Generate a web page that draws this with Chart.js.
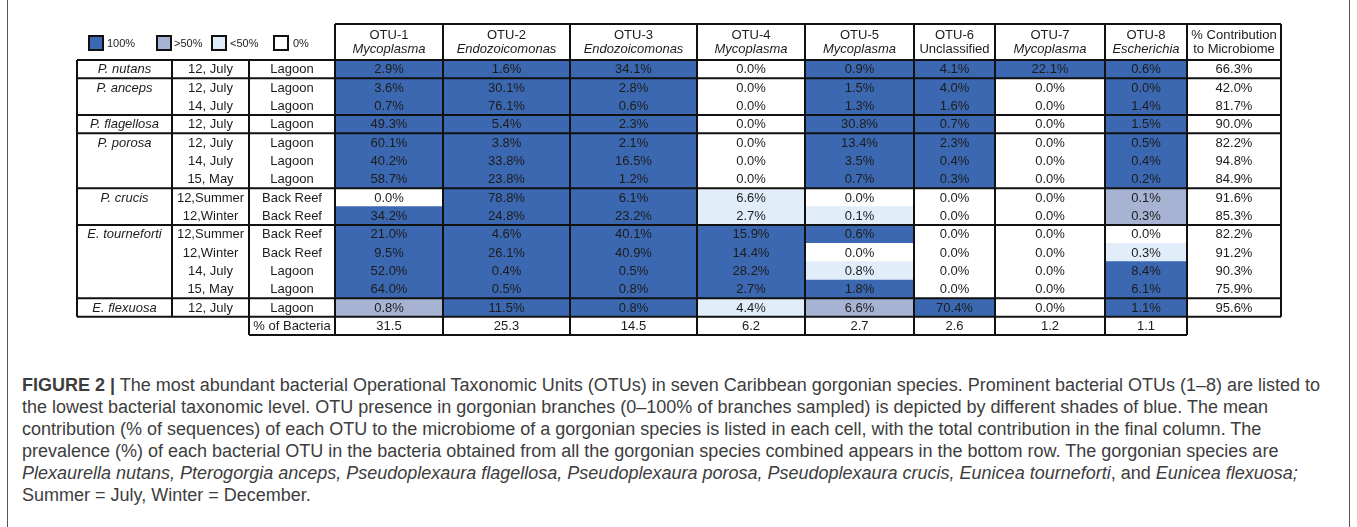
<!DOCTYPE html>
<html>
<head>
<meta charset="utf-8">
<script src="https://cdn.jsdelivr.net/npm/chart.js@4.4.1/dist/chart.umd.min.js"></script>
<style>
  html, body { margin: 0; padding: 0; background: #fff; }
  #page { position: relative; width: 1357px; height: 527px; overflow: hidden; }
  #frame { position: absolute; left: 7px; top: 0; width: 1343px; height: 527px;
           border-left: 1px solid #555; border-right: 1px solid #555; box-sizing: border-box; }
  #chartBox { position: absolute; left: 0; top: 0; width: 1357px; height: 345px; }
  #caption { position: absolute; left: 22px; top: 374px; font-family: "Liberation Sans", Arial, sans-serif;
             font-size: 16.5px; line-height: 22px; color: #3d3d3d; white-space: nowrap; }
  #caption span { display: inline-block; }
</style>
</head>
<body>
<div id="page">
  <div id="frame"></div>
  <div id="chartBox"><canvas id="otuChart"></canvas></div>
  <div id="caption">
    <span id="capLine1"><b>FIGURE 2 |</b> The most abundant bacterial Operational Taxonomic Units (OTUs) in seven Caribbean gorgonian species. Prominent bacterial OTUs (1–8) are listed to</span><br>
    <span>the lowest bacterial taxonomic level. OTU presence in gorgonian branches (0–100% of branches sampled) is depicted by different shades of blue. The mean</span><br>
    <span>contribution (% of sequences) of each OTU to the microbiome of a gorgonian species is listed in each cell, with the total contribution in the final column. The</span><br>
    <span>prevalence (%) of each bacterial OTU in the bacteria obtained from all the gorgonian species combined appears in the bottom row. The gorgonian species are</span><br>
    <span><i>Plexaurella nutans, Pterogorgia anceps, Pseudoplexaura flagellosa, Pseudoplexaura porosa, Pseudoplexaura crucis, Eunicea tourneforti</i>, and <i>Eunicea flexuosa;</i></span><br>
    <span>Summer = July, Winter = December.</span>
  </div>
</div>
<script>
// --- data ---
const otuNames = ['OTU-1', 'OTU-2', 'OTU-3', 'OTU-4', 'OTU-5', 'OTU-6', 'OTU-7', 'OTU-8'];
const otuGenera = ['Mycoplasma', 'Endozoicomonas', 'Endozoicomonas', 'Mycoplasma', 'Mycoplasma', 'Unclassified', 'Mycoplasma', 'Escherichia'];

const species = ['P. nutans', 'P. anceps', '', 'P. flagellosa', 'P. porosa', '', '', 'P. crucis', '',
                 'E. tourneforti', '', '', '', 'E. flexuosa'];
const dates = ['12, July', '12, July', '14, July', '12, July', '12, July', '14, July', '15, May',
               '12,Summer', '12,Winter', '12,Summer', '12,Winter', '14, July', '15, May', '12, July'];
const sites = ['Lagoon', 'Lagoon', 'Lagoon', 'Lagoon', 'Lagoon', 'Lagoon', 'Lagoon',
               'Back Reef', 'Back Reef', 'Back Reef', 'Back Reef', 'Lagoon', 'Lagoon', 'Lagoon'];

// mean contribution (% of sequences) per OTU, one value per sampled row
const otu1 = [2.9, 3.6, 0.7, 49.3, 60.1, 40.2, 58.7, 0.0, 34.2, 21.0, 9.5, 52.0, 64.0, 0.8];
const otu2 = [1.6, 30.1, 76.1, 5.4, 3.8, 33.8, 23.8, 78.8, 24.8, 4.6, 26.1, 0.4, 0.5, 11.5];
const otu3 = [34.1, 2.8, 0.6, 2.3, 2.1, 16.5, 1.2, 6.1, 23.2, 40.1, 40.9, 0.5, 0.8, 0.8];
const otu4 = [0.0, 0.0, 0.0, 0.0, 0.0, 0.0, 0.0, 6.6, 2.7, 15.9, 14.4, 28.2, 2.7, 4.4];
const otu5 = [0.9, 1.5, 1.3, 30.8, 13.4, 3.5, 0.7, 0.0, 0.1, 0.6, 0.0, 0.8, 1.8, 6.6];
const otu6 = [4.1, 4.0, 1.6, 0.7, 2.3, 0.4, 0.3, 0.0, 0.0, 0.0, 0.0, 0.0, 0.0, 70.4];
const otu7 = [22.1, 0.0, 0.0, 0.0, 0.0, 0.0, 0.0, 0.0, 0.0, 0.0, 0.0, 0.0, 0.0, 0.0];
const otu8 = [0.6, 0.0, 1.4, 1.5, 0.5, 0.4, 0.2, 0.1, 0.3, 0.0, 0.3, 8.4, 6.1, 1.1];

// presence in branches: 3 = 100%, 2 = >50%, 1 = <50%, 0 = 0%
const pres1 = [3, 3, 3, 3, 3, 3, 3, 0, 3, 3, 3, 3, 3, 2];
const pres2 = [3, 3, 3, 3, 3, 3, 3, 3, 3, 3, 3, 3, 3, 3];
const pres3 = [3, 3, 3, 3, 3, 3, 3, 3, 3, 3, 3, 3, 3, 3];
const pres4 = [0, 0, 0, 0, 0, 0, 0, 1, 1, 3, 3, 3, 3, 1];
const pres5 = [3, 3, 3, 3, 3, 3, 3, 0, 1, 3, 0, 1, 3, 2];
const pres6 = [3, 3, 3, 3, 3, 3, 3, 0, 0, 0, 0, 0, 0, 3];
const pres7 = [3, 0, 0, 0, 0, 0, 0, 0, 0, 0, 0, 0, 0, 0];
const pres8 = [3, 3, 3, 3, 3, 3, 3, 2, 2, 0, 1, 3, 3, 3];

const contribution = [66.3, 42.0, 81.7, 90.0, 82.2, 94.8, 84.9, 91.6, 85.3, 82.2, 91.2, 90.3, 75.9, 95.6];
const bacteriaPct = [31.5, 25.3, 14.5, 6.2, 2.7, 2.6, 1.2, 1.1];

const legendLabels = ['100%', '>50%', '<50%', '0%'];

// --- layout and style ---
const shades = ['#ffffff', '#e2edfa', '#a6b3d3', '#3b68b0'];   // index = presence level
const colWidths = [95, 77, 86, 108, 127, 127, 108, 109, 81, 110, 82, 94];
const edges = [0];
colWidths.forEach(w => edges.push(edges[edges.length - 1] + w));
const headerH = 36;
const legendX = [89, 157, 212, 274];
const legendTextX = [107, 174, 230, 293];
const font = '"Liberation Sans", Arial, sans-serif';
const cellFont = '13px ' + font;
const ink = '#1c1c1c';

const values = [otu1, otu2, otu3, otu4, otu5, otu6, otu7, otu8];
const presence = [pres1, pres2, pres3, pres4, pres5, pres6, pres7, pres8];
const rowLabels = dates.map((d, i) => (species[i] || '') + ' ' + d + ' ' + sites[i]).concat(['% of Bacteria']);

const datasets = values.map((vals, k) => ({
    label: otuNames[k],
    data: rowLabels.map((_, i) => i < vals.length ? [edges[3 + k], edges[4 + k]] : null),
    backgroundColor: rowLabels.map((_, i) => i < vals.length ? shades[presence[k][i]] : '#ffffff'),
    borderWidth: 0,
    grouped: false,
    barPercentage: 1,
    categoryPercentage: 1
}));

const tablePlugin = {
    id: 'tableDraw',
    afterDraw(chart) {
        const { ctx, chartArea, scales: { x, y } } = chart;
        const px = e => x.getPixelForValue(edges[e]);
        const nRows = rowLabels.length;
        const rowH = (chartArea.bottom - chartArea.top) / nRows;
        const rowTop = i => y.getPixelForValue(i) - rowH / 2;
        const midX = c => (px(c) + px(c + 1)) / 2;
        const dataRows = dates.length;
        const top = chartArea.top;
        const bot = chartArea.bottom;
        const hTop = top - headerH;

        ctx.save();
        ctx.textAlign = 'center';
        ctx.textBaseline = 'middle';
        ctx.fillStyle = ink;

        // cell texts
        for (let i = 0; i < dataRows; i++) {
            const cy = y.getPixelForValue(i) + 0.5;
            if (species[i]) {
                ctx.font = 'italic ' + cellFont;
                ctx.fillText(species[i], midX(0), cy);
            }
            ctx.font = cellFont;
            ctx.fillText(dates[i], midX(1), cy);
            ctx.fillText(sites[i], midX(2), cy);
            values.forEach((vals, k) => ctx.fillText(vals[i].toFixed(1) + '%', midX(3 + k), cy));
            ctx.fillText(contribution[i].toFixed(1) + '%', midX(11), cy);
        }
        const by = y.getPixelForValue(dataRows) + 0.5;
        ctx.fillText('% of Bacteria', midX(2), by);
        bacteriaPct.forEach((v, k) => ctx.fillText(v.toFixed(1), midX(3 + k), by));

        // header texts
        otuNames.forEach((n, k) => {
            ctx.font = cellFont;
            ctx.fillText(n, midX(3 + k), hTop + 11);
            ctx.font = (otuGenera[k] === 'Unclassified' ? '' : 'italic ') + cellFont;
            ctx.fillText(otuGenera[k], midX(3 + k), hTop + 25);
        });
        ctx.font = cellFont;
        ctx.fillText('% Contribution', midX(11), hTop + 11);
        ctx.fillText('to Microbiome', midX(11), hTop + 25);

        // legend
        ctx.textAlign = 'left';
        ctx.font = '11px ' + font;
        legendLabels.forEach((lab, k) => {
            ctx.fillStyle = shades[3 - k];
            ctx.fillRect(legendX[k], 36, 14, 14);
            ctx.lineWidth = 2;
            ctx.strokeStyle = '#111';
            ctx.strokeRect(legendX[k], 36, 14, 14);
            ctx.fillStyle = ink;
            ctx.fillText(lab, legendTextX[k], 44);
        });

        // borders
        ctx.strokeStyle = '#111';
        ctx.lineWidth = 2;
        const line = (x0, y0, x1, y1) => { ctx.beginPath(); ctx.moveTo(x0, y0); ctx.lineTo(x1, y1); ctx.stroke(); };
        // header cells
        line(px(3), hTop, px(12), hTop);
        for (let e = 3; e <= 12; e++) line(px(e), hTop, px(e), top);
        // group separators
        line(px(0), top, px(12), top);
        species.forEach((s, i) => { if (s && i > 0) line(px(0), rowTop(i), px(12), rowTop(i)); });
        const bTop = rowTop(dataRows);
        line(px(0), bTop, px(12), bTop);
        for (let e = 0; e <= 12; e++) line(px(e), top, px(e), bTop);
        // bacteria row
        line(px(2), bot, px(11), bot);
        for (let e = 2; e <= 11; e++) line(px(e), bTop, px(e), bot);
        ctx.restore();
    }
};

new Chart(document.getElementById('otuChart'), {
    type: 'bar',
    data: { labels: rowLabels, datasets: datasets },
    options: {
        indexAxis: 'y',
        responsive: true,
        maintainAspectRatio: false,
        animation: false,
        layout: { padding: { left: 77, right: 76, top: 60, bottom: 10 } },
        scales: {
            x: { type: 'linear', display: false, min: 0, max: edges[edges.length - 1] },
            y: { type: 'category', display: false }
        },
        plugins: { legend: { display: false }, tooltip: { enabled: false } }
    },
    plugins: [tablePlugin]
});

// fit the caption's first line to the width it has in the figure
const cap = document.getElementById('caption');
const w1 = document.getElementById('capLine1').getBoundingClientRect().width;
cap.style.fontSize = (16.5 * 1298 / w1).toFixed(2) + 'px';
</script>
</body>
</html>
